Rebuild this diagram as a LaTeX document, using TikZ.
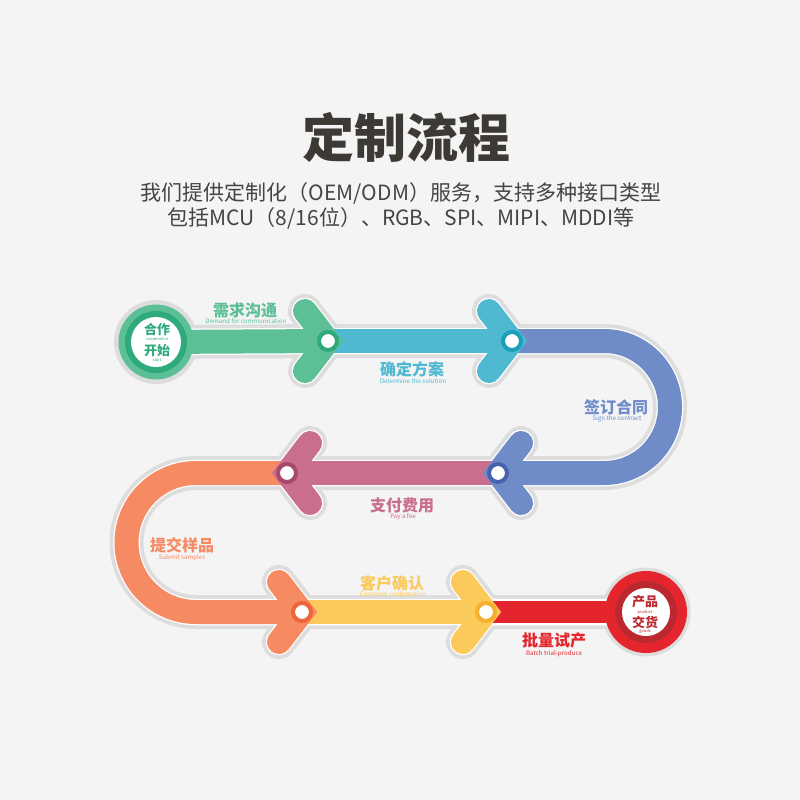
\documentclass[tikz,border=0pt]{standalone}
\usepackage{fontspec}
\setmainfont{Noto Sans CJK SC}
\definecolor{bgC}{HTML}{F4F4F4}
\definecolor{haloC}{HTML}{DDDDDD}
\definecolor{titleC}{HTML}{3D3A36}
\definecolor{textC}{HTML}{444444}
\definecolor{cgreen}{HTML}{5CBF96}
\definecolor{cgreenD}{HTML}{2EAA7C}
\definecolor{cblue}{HTML}{50B9D2}
\definecolor{cblueD}{HTML}{1A9FBA}
\definecolor{cpurple}{HTML}{6F8BC8}
\definecolor{cpurpleD}{HTML}{4A62AE}
\definecolor{cpink}{HTML}{C96F8D}
\definecolor{cpinkD}{HTML}{A8486A}
\definecolor{corange}{HTML}{F68B63}
\definecolor{corangeD}{HTML}{EE6638}
\definecolor{cyellow}{HTML}{FCC95B}
\definecolor{cyellowD}{HTML}{F6B02E}
\definecolor{cred}{HTML}{E4252D}
\definecolor{credD}{HTML}{BC2830}
\tikzset{
  halo/.style={draw=haloC, line width=34pt, line cap=round, line join=round},
  rim/.style={draw=white, line width=26.5pt, line cap=round, line join=round},
  seg/.style={draw=#1, line width=24pt},
  arm/.style={draw=#1, line width=24pt, line cap=round, line join=miter},
  ring/.style={circle, fill=white, draw=#1, line width=4pt, minimum size=18pt, inner sep=0pt},
  zh/.style={text=#1, inner sep=0pt, font=\bfseries\fontsize{16}{16}\selectfont},
  en/.style={text=#1, inner sep=0pt, font=\fontsize{6.2}{7}\selectfont},
  zhs/.style={text=#1, inner sep=0pt, font=\bfseries\fontsize{13}{13}\selectfont},
  ens/.style={text=#1, inner sep=0pt, font=\fontsize{4}{4.5}\selectfont},
}
\begin{document}
\begin{tikzpicture}[x=1pt, y=-1pt]
\fill[bgC] (0,0) rectangle (800,800);
\useasboundingbox (0,0) rectangle (800,800);
% title
\node[text=titleC, font=\bfseries\fontsize{52}{52}\selectfont] (title) at (406,137) {定制流程};
\node[text=textC, font=\fontsize{21}{21}\selectfont] (line1) at (401,193) {我们提供定制化（OEM/ODM）服务，支持多种接口类型};
\node[text=textC, font=\fontsize{21}{21}\selectfont] (line2) at (401,218) {包括MCU（8/16位）、RGB、SPI、MIPI、MDDI等};
% stations on the track
\coordinate (s) at (156,342);
\coordinate (n1) at (328,341);
\coordinate (n2) at (512,341);
\coordinate (n3) at (498,473);
\coordinate (n4) at (287,473);
\coordinate (n5) at (302,612);
\coordinate (n6) at (486,612);
\coordinate (e) at (646,612);
% halo and white rim
\fill[haloC] (s) circle[radius=42pt];
\fill[haloC] (e) circle[radius=44.5pt];
\foreach \lay in {halo, rim}{
  \draw[\lay] (s) -- (n1) -- (n2) -- (604,341) arc[start angle=90, end angle=-90, radius=66pt] -- (n3) -- (n4) -- (196,473) arc[start angle=90, end angle=270, radius=69.5pt] -- (n5) -- (n6) -- (e);
  \draw[\lay] (n1) ++(-23,-30) -- (n1) -- ++(-23,30);
  \draw[\lay] (n2) ++(-23,-30) -- (n2) -- ++(-23,30);
  \draw[\lay] (n3) ++(23,-30) -- (n3) -- ++(23,30);
  \draw[\lay] (n4) ++(23,-30) -- (n4) -- ++(23,30);
  \draw[\lay] (n5) ++(-23,-30) -- (n5) -- ++(-23,30);
  \draw[\lay] (n6) ++(-23,-30) -- (n6) -- ++(-23,30);
}
% coloured bars
\draw[seg=cgreen] (s) -- (n1);
\draw[seg=cblue] (n1) -- (n2);
\draw[seg=cpurple] (n2) -- (604,341) arc[start angle=90, end angle=-90, radius=66pt] -- (n3);
\draw[seg=cpink] (n3) -- (n4);
\draw[seg=corange] (n4) -- (196,473) arc[start angle=90, end angle=270, radius=69.5pt] -- (n5);
\draw[seg=cyellow] (n5) -- (n6);
\draw[seg=cred, line width=22pt] (n6) -- (e);
% arrow heads
\draw[arm=cgreen] (n1) ++(-23,-30) -- (n1) -- ++(-23,30);
\draw[arm=cblue] (n2) ++(-23,-30) -- (n2) -- ++(-23,30);
\draw[arm=cpurple] (n3) ++(23,-30) -- (n3) -- ++(23,30);
\draw[arm=cpink] (n4) ++(23,-30) -- (n4) -- ++(23,30);
\draw[arm=corange] (n5) ++(-23,-30) -- (n5) -- ++(-23,30);
\draw[arm=cyellow] (n6) ++(-23,-30) -- (n6) -- ++(-23,30);
% start and end discs
\fill[cgreen] (s) circle[radius=37.5pt];
\fill[cgreenD] (s) circle[radius=31pt];
\fill[white] (s) circle[radius=25pt];
\fill[cred] (e) circle[radius=41pt];
\fill[credD] (e) circle[radius=31pt];
\fill[white] (e) circle[radius=24pt];
% station rings
\node[ring=cgreenD] (r1) at (n1) {};
\node[ring=cblueD] (r2) at (n2) {};
\node[ring=cpurpleD] (r3) at (n3) {};
\node[ring=cpinkD] (r4) at (n4) {};
\node[ring=corangeD] (r5) at (n5) {};
\node[ring=cyellowD] (r6) at (n6) {};
% texts in discs
\node[zhs=cgreenD] (s1) at (157,330) {合作};
\node[ens=cgreenD] (s2) at (157,339.5) {cooperation};
\node[zhs=cgreenD] (s3) at (157,350.5) {开始};
\node[ens=cgreenD] (s4) at (157,360) {start};
\node[zhs=credD] (e1) at (645,602) {产品};
\node[ens=credD] (e2) at (645,612) {product};
\node[zhs=credD] (e3) at (645,622) {交货};
\node[ens=credD] (e4) at (645,631) {goods};
% step labels
\node[zh=cgreen] (lab1) at (245,310) {需求沟通};
\node[en=cgreen] (sub1) at (246,321) {Demand for communication};
\node[zh=cblue] (lab2) at (412,369) {确定方案};
\node[en=cblue] (sub2) at (413,381) {Determine the solution};
\node[zh=cpurple] (lab3) at (616,407) {签订合同};
\node[en=cpurple] (sub3) at (617,419) {Sign the contract};
\node[zh=cpink] (lab4) at (402,505) {支付费用};
\node[en=cpink] (sub4) at (403,517) {Pay a fee};
\node[zh=corange] (lab5) at (182,545) {提交样品};
\node[en=corange] (sub5) at (182,558) {Submit samples};
\node[zh=cyellow] (lab6) at (392,583) {客户确认};
\node[en=cyellow] (sub6) at (393,594) {Customer confirmation};
\node[zh=cred] (lab7) at (554,640) {批量试产};
\node[en=cred] (sub7) at (554,654) {Batch trial-produce};
\end{tikzpicture}
\end{document}
